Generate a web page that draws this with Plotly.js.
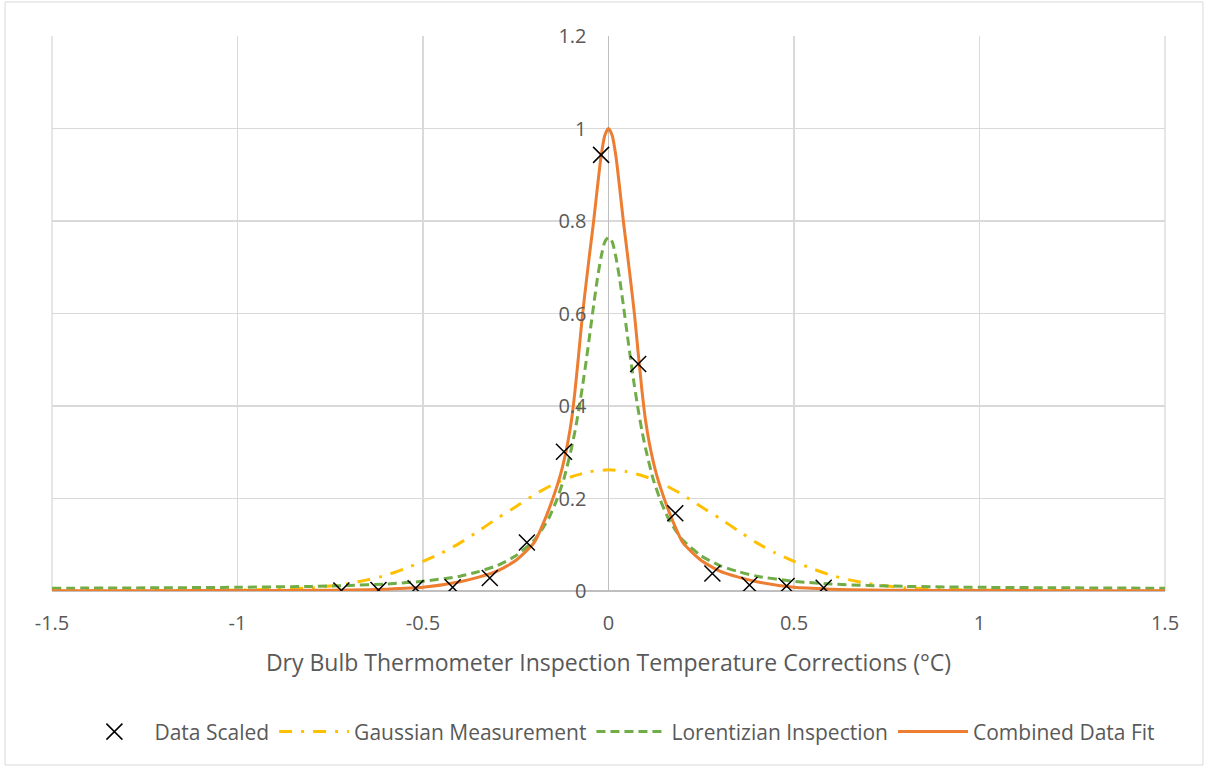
<!DOCTYPE html>
<html>
<head>
<meta charset="utf-8">
<script src="https://cdn.plot.ly/plotly-3.0.1.min.js"></script>
<style>html,body{margin:0;padding:0;background:#fff;}#chart{width:1208px;height:767px;}</style>
</head>
<body>
<div id="chart"></div>
<script>
// Data Scaled (markers)
var dataX = [-0.72, -0.62, -0.52, -0.42, -0.32, -0.22, -0.12, -0.02, 0.08, 0.18, 0.28, 0.38, 0.48, 0.58];
var dataY = [0.001, 0.002, 0.006, 0.008, 0.028, 0.105, 0.301, 0.943, 0.491, 0.168, 0.038, 0.013, 0.011, 0.007];

var gaussX = [-1.5, -1.2, -1.0, -0.9, -0.8, -0.75, -0.7, -0.65, -0.6, -0.55, -0.5, -0.45, -0.4, -0.35, -0.3, -0.25, -0.2, -0.15, -0.1, -0.05, 0,
              0.05, 0.1, 0.15, 0.2, 0.25, 0.3, 0.35, 0.4, 0.45, 0.5, 0.55, 0.6, 0.65, 0.7, 0.75, 0.8, 0.9, 1.0, 1.2, 1.5];
var gaussY = [0.0, 0.001, 0.002, 0.004, 0.007, 0.011, 0.016, 0.024, 0.034, 0.048, 0.064, 0.082, 0.104, 0.13, 0.157, 0.182, 0.208, 0.23, 0.247, 0.258, 0.262,
              0.258, 0.247, 0.23, 0.208, 0.182, 0.157, 0.13, 0.104, 0.082, 0.064, 0.048, 0.034, 0.024, 0.016, 0.011, 0.007, 0.004, 0.002, 0.001, 0.0];

// Lorentizian Inspection curve
var lorX = [-1.5, -1.2, -1.0, -0.8, -0.7, -0.6, -0.5, -0.4, -0.35, -0.3, -0.25, -0.2, -0.18, -0.16, -0.14, -0.12, -0.1, -0.09, -0.08, -0.07, -0.06, -0.05, -0.04, -0.03, -0.02, -0.01, 0,
            0.01, 0.02, 0.03, 0.04, 0.05, 0.06, 0.07, 0.08, 0.09, 0.1, 0.12, 0.14, 0.16, 0.18, 0.2, 0.25, 0.3, 0.35, 0.4, 0.5, 0.6, 0.7, 0.8, 1.0, 1.2, 1.5];
var lorY = [0.006, 0.007, 0.008, 0.01, 0.012, 0.015, 0.021, 0.032, 0.042, 0.055, 0.076, 0.11, 0.132, 0.159, 0.196, 0.243, 0.308, 0.347, 0.392, 0.443, 0.498, 0.558, 0.618, 0.675, 0.722, 0.755, 0.765,
            0.755, 0.722, 0.675, 0.618, 0.558, 0.498, 0.443, 0.392, 0.347, 0.308, 0.243, 0.196, 0.159, 0.132, 0.11, 0.076, 0.055, 0.042, 0.032, 0.021, 0.015, 0.012, 0.01, 0.008, 0.007, 0.006];

// Combined Data Fit curve
var combX = [-1.5, -1.2, -1.0, -0.8, -0.7, -0.6, -0.5, -0.4, -0.35, -0.3, -0.25, -0.2, -0.175, -0.15, -0.13, -0.12, -0.11, -0.1, -0.09, -0.08, -0.07, -0.06, -0.05, -0.04, -0.03, -0.02, -0.01, 0,
             0.01, 0.02, 0.03, 0.04, 0.05, 0.06, 0.07, 0.08, 0.09, 0.1, 0.11, 0.12, 0.13, 0.15, 0.175, 0.2, 0.25, 0.3, 0.35, 0.4, 0.5, 0.6, 0.7, 0.8, 1.0, 1.2, 1.5];
var combY = [0.0005, 0.0007, 0.001, 0.0015, 0.002, 0.004, 0.008, 0.02, 0.03, 0.043, 0.066, 0.105, 0.148, 0.2, 0.25, 0.282, 0.32, 0.368, 0.435, 0.515, 0.598, 0.668, 0.735, 0.8, 0.872, 0.94, 0.985, 1.0,
             0.985, 0.94, 0.872, 0.8, 0.735, 0.668, 0.598, 0.515, 0.435, 0.368, 0.32, 0.282, 0.25, 0.2, 0.148, 0.105, 0.066, 0.043, 0.03, 0.02, 0.008, 0.004, 0.002, 0.0015, 0.001, 0.0007, 0.0005];

var xTickVals = [-1.5, -1, -0.5, 0, 0.5, 1, 1.5];
var xTickText = ["-1.5", "-1", "-0.5", "0", "0.5", "1", "1.5"];
var yTickVals = [0, 0.2, 0.4, 0.6, 0.8, 1, 1.2];
var yTickText = ["0", "0.2", "0.4", "0.6", "0.8", "1", "1.2"];

var FONT = "'Open Sans', Lato, sans-serif";
var TXT = "#595959";
var GRID = "#D9D9D9";

var traces = [
  {x: gaussX, y: gaussY, type: "scatter", mode: "lines", name: "Gaussian Measurement",
   line: {color: "#FFC000", width: 3, dash: "13px,9px,3px,9px", shape: "spline", smoothing: 0.6}, legendrank: 2, hoverinfo: "skip"},
  {x: lorX, y: lorY, type: "scatter", mode: "lines", name: "Lorentizian Inspection",
   line: {color: "#70AD47", width: 3, dash: "9px,5px", shape: "spline", smoothing: 0.6}, legendrank: 3, hoverinfo: "skip"},
  {x: combX, y: combY, type: "scatter", mode: "lines", name: "Combined Data Fit",
   line: {color: "#ED7D31", width: 3, shape: "spline", smoothing: 0.6}, legendrank: 4, hoverinfo: "skip"},
  {x: dataX, y: dataY, type: "scatter", mode: "markers", name: "Data Scaled",
   marker: {symbol: "x-thin-open", size: 16, color: "#000000", line: {color: "#000000", width: 1.5}}, legendrank: 1}
];

var layout = {
  width: 1208, height: 767,
  margin: {l: 52, r: 43, t: 36, b: 176},
  paper_bgcolor: "#ffffff", plot_bgcolor: "#ffffff",
  font: {family: FONT, color: TXT, size: 20},
  showlegend: true,
  legend: {orientation: "h", x: 0.508, xanchor: "center", y: -0.254, yanchor: "middle",
           font: {family: FONT, size: 21, color: TXT}, itemwidth: 70, traceorder: "normal"},
  xaxis: {
    range: [-1.5, 1.5], tickvals: xTickVals, ticktext: xTickText,
    showgrid: true, gridcolor: GRID, gridwidth: 1.3,
    zeroline: true, zerolinecolor: "#BFBFBF", zerolinewidth: 1.5,
    showline: false, ticks: "", ticklabelstandoff: 18,
    tickfont: {family: FONT, size: 20, color: TXT},
    title: {text: "Dry Bulb Thermometer Inspection Temperature Corrections (°C)",
            font: {family: FONT, size: 23, color: TXT}, standoff: 19}
  },
  yaxis: {
    range: [0, 1.2], tickvals: yTickVals, ticktext: yTickText,
    anchor: "free", position: 0.5,
    showgrid: true, gridcolor: GRID, gridwidth: 1.3,
    zeroline: true, zerolinecolor: "#BFBFBF", zerolinewidth: 1.5,
    showline: false, ticks: "", ticklabelstandoff: 22,
    tickfont: {family: FONT, size: 20, color: TXT}
  },
  shapes: [
    {type: "rect", xref: "paper", yref: "paper", x0: -0.0422, x1: 1.0341, y0: -0.3135, y1: 1.0613,
     line: {color: GRID, width: 1}, fillcolor: "rgba(0,0,0,0)", layer: "below"},
    {type: "line", xref: "paper", yref: "paper", x0: 0, x1: 0, y0: 0, y1: 1,
     line: {color: GRID, width: 1.3}, layer: "below"},
    {type: "line", xref: "paper", yref: "paper", x0: 1, x1: 1, y0: 0, y1: 1,
     line: {color: GRID, width: 1.3}, layer: "below"}
  ]
};

Plotly.newPlot("chart", traces, layout, {displayModeBar: false, staticPlot: true});
</script>
</body>
</html>
